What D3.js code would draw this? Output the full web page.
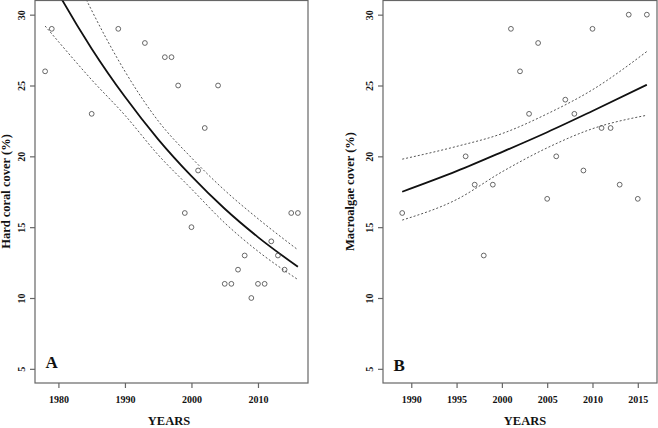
<!DOCTYPE html>
<html>
<head>
<meta charset="utf-8">
<script src="https://cdn.jsdelivr.net/npm/d3@7"></script>
<style>
  body { margin: 0; background: #fff; }
  svg { display: block; font-family: "Liberation Serif", "Times New Roman", serif; font-weight: bold; }
</style>
</head>
<body>
<div class="canvas"></div>
<script>
// panel A: hard coral cover
const coralYears = [1978, 1979, 1985, 1989, 1993, 1996, 1997, 1998, 1999, 2000, 2001, 2002, 2004,
  2005, 2006, 2007, 2008, 2009, 2010, 2011, 2012, 2013, 2014, 2015, 2016];
const coralCover = [26, 29, 23, 29, 28, 27, 27, 25, 16, 15, 19, 22, 25,
  11, 11, 12, 13, 10, 11, 11, 14, 13, 12, 16, 16];
// fitted curve and confidence band
const coralFitYears = [1978, 1980, 1985, 1990, 1995, 2000, 2005, 2010, 2016];
const coralFit = [33.2, 31.5, 27.6, 24.2, 21.2, 18.6, 16.3, 14.3, 12.2];
const coralUpper = [37.5, 35.3, 30.3, 26.0, 22.5, 19.9, 17.6, 15.6, 13.4];
const coralLower = [29.2, 28.1, 25.4, 22.9, 20.1, 17.7, 15.3, 13.3, 11.3];
const coralTicks = [1980, 1990, 2000, 2010];

// panel B: macroalgae cover
const algaeYears = [1989, 1996, 1997, 1998, 1999, 2001, 2002, 2003, 2004, 2005, 2006,
  2007, 2008, 2009, 2010, 2011, 2012, 2013, 2014, 2015, 2016];
const algaeCover = [16, 20, 18, 13, 18, 29, 26, 23, 28, 17, 20,
  24, 23, 19, 29, 22, 22, 18, 30, 17, 30];
const algaeFitYears = [1989, 1995, 2000, 2005, 2010, 2016];
const algaeFit = [17.5, 18.95, 20.3, 21.7, 23.2, 25.05];
const algaeUpper = [19.8, 20.7, 21.6, 23.0, 24.7, 27.4];
const algaeLower = [15.5, 16.95, 18.9, 20.6, 21.95, 22.9];
const algaeTicks = [1990, 1995, 2000, 2005, 2010, 2015];

const yTicks = [5, 10, 15, 20, 25, 30];

const svg = d3.select('.canvas')
  .append('svg')
  .attr('width', 658)
  .attr('height', 428);

function drawPanel(p) {
  const x = d3.scaleLinear().domain(p.xDomain).range([p.left, p.right]);
  const y = d3.scaleLinear().domain([4, 31]).range([383, 0.5]);

  const g = svg.append('g');

  g.append('clipPath')
    .attr('id', 'clip-' + p.id)
    .append('rect')
      .attr('x', p.left).attr('y', 0.5)
      .attr('width', p.right - p.left).attr('height', 382.5);

  // box
  g.append('rect')
    .attr('x', p.left).attr('y', 0.5)
    .attr('width', p.right - p.left).attr('height', 382.5)
    .attr('fill', 'none')
    .attr('stroke', '#666')
    .attr('stroke-width', 1.2);

  // x axis
  const xAxis = g.append('g')
    .attr('transform', 'translate(0,383)')
    .call(d3.axisBottom(x).tickValues(p.xTicks).tickFormat(d3.format('d')).tickSize(5).tickPadding(8));
  xAxis.select('.domain').remove();
  xAxis.selectAll('line').attr('stroke', '#666').attr('stroke-width', 1.2);
  xAxis.selectAll('text')
    .attr('fill', '#111')
    .style('font-family', '"Liberation Serif", serif')
    .style('font-weight', 'bold')
    .style('font-size', '10px');

  // y axis (rotated labels)
  const yAxis = g.append('g')
    .attr('transform', `translate(${p.left},0)`)
    .call(d3.axisLeft(y).tickValues(yTicks).tickSize(5).tickFormat(d => d));
  yAxis.select('.domain').remove();
  yAxis.selectAll('line').attr('stroke', '#666').attr('stroke-width', 1.2);
  yAxis.selectAll('text')
    .attr('x', null).attr('dy', null)
    .attr('text-anchor', 'middle')
    .attr('transform', 'translate(-10.5,0) rotate(-90)')
    .attr('fill', '#111')
    .style('font-family', '"Liberation Serif", serif')
    .style('font-weight', 'bold')
    .style('font-size', '10px');

  const plot = g.append('g').attr('clip-path', `url(#clip-${p.id})`);

  const line = d3.line()
    .x(d => x(d[0]))
    .y(d => y(d[1]))
    .curve(d3.curveMonotoneX);

  [p.upper, p.lower].forEach(band => {
    plot.append('path')
      .datum(d3.zip(p.fitYears, band))
      .attr('d', line)
      .attr('fill', 'none')
      .attr('stroke', '#555')
      .attr('stroke-width', 1)
      .attr('stroke-dasharray', '2,2');
  });

  plot.append('path')
    .datum(d3.zip(p.fitYears, p.fit))
    .attr('d', line)
    .attr('fill', 'none')
    .attr('stroke', '#111')
    .attr('stroke-width', 1.8);

  plot.selectAll('circle')
    .data(d3.zip(p.years, p.values))
    .enter()
    .append('circle')
      .attr('cx', d => x(d[0]))
      .attr('cy', d => y(d[1]))
      .attr('r', 2.4)
      .attr('fill', 'none')
      .attr('stroke', '#444')
      .attr('stroke-width', 0.8);

  // panel letter
  g.append('text')
    .attr('x', p.letterX)
    .attr('y', p.letterY)
    .attr('fill', '#111')
    .style('font-size', '17px')
    .text(p.letter);

  // axis titles
  g.append('text')
    .attr('x', p.xTitleX)
    .attr('y', p.xTitleY)
    .attr('text-anchor', 'middle')
    .attr('fill', '#111')
    .style('font-size', '12.5px')
    .text('YEARS');

  g.append('text')
    .attr('transform', `translate(${p.yTitleX},191.5) rotate(-90)`)
    .attr('text-anchor', 'middle')
    .attr('fill', '#111')
    .style('font-size', '12.5px')
    .text(p.yTitle);
}

drawPanel({
  id: 'a', left: 35, right: 308, xDomain: [1976.48, 2017.52], xTicks: coralTicks,
  years: coralYears, values: coralCover,
  fitYears: coralFitYears, fit: coralFit, upper: coralUpper, lower: coralLower,
  letter: 'A', letterX: 45.5, letterY: 368,
  xTitleX: 169, xTitleY: 424.5, yTitleX: 10, yTitle: 'Hard coral cover (%)'
});

drawPanel({
  id: 'b', left: 383, right: 657, xDomain: [1986.88, 2017.12], xTicks: algaeTicks,
  years: algaeYears, values: algaeCover,
  fitYears: algaeFitYears, fit: algaeFit, upper: algaeUpper, lower: algaeLower,
  letter: 'B', letterX: 393.5, letterY: 371,
  xTitleX: 525, xTitleY: 425, yTitleX: 354, yTitle: 'Macroalgae cover (%)'
});
</script>
</body>
</html>
